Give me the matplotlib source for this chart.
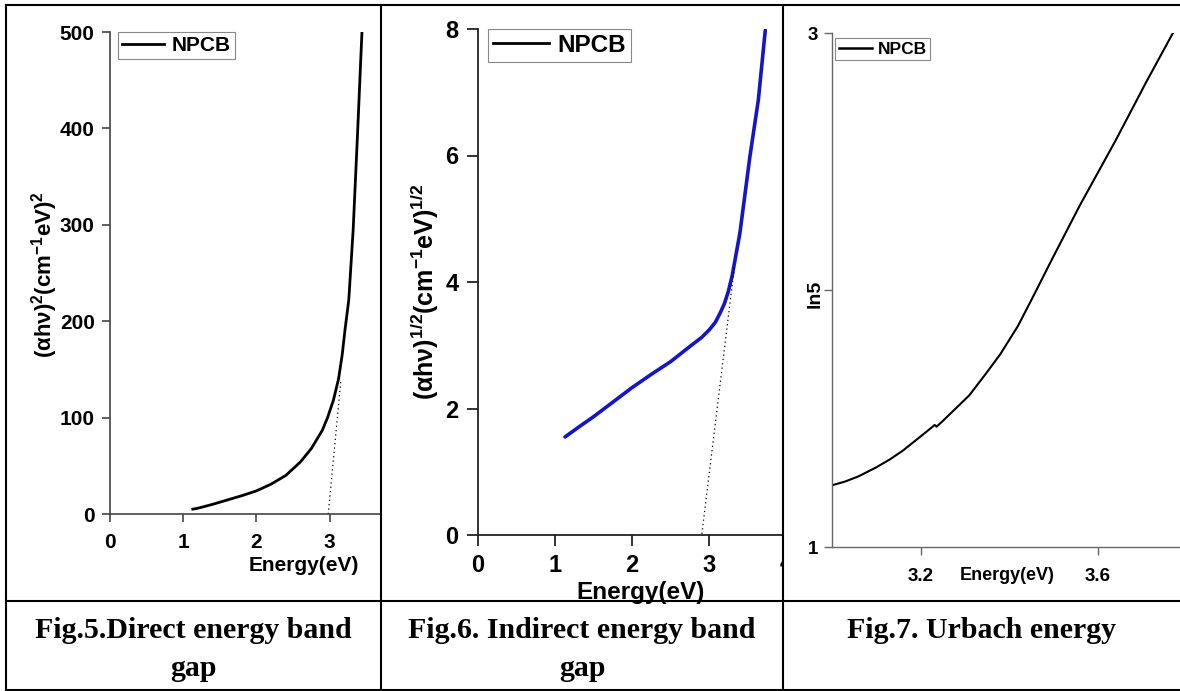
import numpy as np
import matplotlib
matplotlib.use('Agg')
import matplotlib.pyplot as plt
from matplotlib.lines import Line2D
import matplotlib.transforms as mtransforms

W, H = 1180, 691

# Fig.5 direct band gap : (alpha h nu)^2 vs energy
e_direct = [1.13, 1.2, 1.4, 1.6, 1.8, 2.0, 2.2, 2.4, 2.6, 2.75, 2.9, 2.97, 3.05,
            3.12, 3.17, 3.21, 3.26, 3.32, 3.38, 3.44]
a_direct = [5, 6, 10, 14.5, 19, 24, 31, 40, 54, 68, 87, 100, 118,
            140, 165, 192, 222, 295, 395, 500]
fit_direct_x = [2.98, 3.15]
fit_direct_y = [0, 137]

# Fig.6 indirect band gap : (alpha h nu)^1/2 vs energy
e_indirect = [1.13, 1.3, 1.5, 1.75, 2.0, 2.25, 2.5, 2.75, 2.9, 3.0, 3.08, 3.14,
              3.2, 3.25, 3.3, 3.4, 3.53, 3.64, 3.73]
a_indirect = [1.55, 1.7, 1.87, 2.1, 2.33, 2.54, 2.74, 2.98, 3.12, 3.24, 3.36, 3.5,
              3.66, 3.85, 4.1, 4.77, 5.98, 6.88, 7.98]
fit_indirect_x = [2.90, 3.33]
fit_indirect_y = [-0.05, 4.25]

# Fig.7 Urbach energy
e_urbach = [3.0, 3.03, 3.06, 3.1, 3.13, 3.16, 3.2, 3.225, 3.232, 3.236, 3.25, 3.28,
            3.31, 3.35, 3.38, 3.42, 3.45, 3.5, 3.56, 3.64, 3.71, 3.77]
ln_urbach = [1.24, 1.255, 1.275, 1.31, 1.34, 1.375, 1.43, 1.465, 1.475, 1.468, 1.49, 1.54,
             1.59, 1.68, 1.75, 1.86, 1.96, 2.13, 2.33, 2.58, 2.81, 3.0]

captions = [("Fig.5.Direct energy band", "gap"),
            ("Fig.6. Indirect energy band", "gap"),
            ("Fig.7. Urbach energy", "")]

plt.rcParams['font.family'] = ['Liberation Sans', 'DejaVu Sans']
plt.rcParams['font.weight'] = 'bold'
plt.rcParams['mathtext.fontset'] = 'custom'
plt.rcParams['mathtext.rm'] = 'Liberation Sans'
plt.rcParams['mathtext.bf'] = 'Liberation Sans:bold'
plt.rcParams['mathtext.it'] = 'Liberation Sans:italic'

fig = plt.figure(figsize=(W / 100, H / 100), dpi=100)


def box(l, t, r, b):
    return [l / W, 1 - b / H, (r - l) / W, (b - t) / H]


def style(ax, color, lw, size, tl, xpad, ypad):
    for s in ['top', 'right']:
        ax.spines[s].set_visible(False)
    for s in ['left', 'bottom']:
        ax.spines[s].set_color(color)
        ax.spines[s].set_linewidth(lw)
    ax.tick_params(direction='out', length=tl, width=lw, color=color, labelsize=size)
    ax.tick_params(axis='x', pad=xpad)
    ax.tick_params(axis='y', pad=ypad)


def legend(ax, x0, y1, size, hl, lw=2):
    h = [Line2D([], [], color='black', lw=lw)]
    lg = ax.legend(h, ['NPCB'], loc='upper left', bbox_to_anchor=(x0, y1),
                   borderaxespad=0, borderpad=0.2, handlelength=hl, handletextpad=0.35,
                   fancybox=False, framealpha=1, prop={'size': size, 'weight': 'bold'})
    lg.get_frame().set_edgecolor('#888888')
    lg.get_frame().set_linewidth(0.8)
    return lg


# ---- panel 1
ax1 = fig.add_axes(box(110, 32, 381, 514))
ax1.plot(e_direct, a_direct, color='black', lw=2)
ax1.plot(fit_direct_x, fit_direct_y, color='black', lw=0.9, ls=(0, (1, 2.5)))
ax1.set_xlim(0, 3.70)
ax1.set_ylim(0, 500)
ax1.set_xticks([0, 1, 2, 3])
ax1.set_yticks([0, 100, 200, 300, 400, 500])
style(ax1, '#444444', 1.2, 15, 6, 8, 5)
ax1.text(0.715, -0.106, 'Energy(eV)', transform=ax1.transAxes, ha='center', va='center',
         fontsize=15, fontweight='bold')
fig.text(45 / W, 1 - 275 / H, r'$\mathbf{(\alpha h\nu)^{2}(cm^{-1}eV)^{2}}$', rotation=90,
         ha='center', va='center', fontsize=16)
legend(ax1, 0.03, 1.0, 15, 2.0)

# ---- panel 2
ax2 = fig.add_axes(box(478, 29, 783, 535))
ax2.plot(e_indirect, a_indirect, color='#1414c8', lw=2.6, solid_capstyle='round')
ax2.plot(fit_indirect_x, fit_indirect_y, color='black', lw=0.9, ls=(0, (1, 2.5)))
ax2.set_xlim(0, 3.96)
ax2.set_ylim(0, 8)
ax2.set_xticks([0, 1, 2, 3])
ax2.set_yticks([0, 2, 4, 6, 8])
style(ax2, '#222222', 1.3, 17, 8, 6, 6)
ax2.text(0.534, -0.113, 'Energy(eV)', transform=ax2.transAxes, ha='center', va='center',
         fontsize=17.5, fontweight='bold')
fig.text(425 / W, 1 - 292 / H, r'$\mathbf{(\alpha h\nu)^{1/2}(cm^{-1}eV)^{1/2}}$', rotation=90,
         ha='center', va='center', fontsize=18)
legend(ax2, 0.033, 1.0, 17.5, 2.3)
# tick label "4" hidden behind the table border
tr = mtransforms.blended_transform_factory(ax2.transData, fig.transFigure)
t4 = fig.text(4.0, 1 - 563 / H, '4', transform=tr, ha='center', va='center',
              fontsize=17, fontweight='bold')
t4.set_clip_box(mtransforms.TransformedBbox(
    mtransforms.Bbox([[0, 0], [783 / W, 1]]), fig.transFigure))
t4.set_clip_on(True)

# ---- panel 3
ax3 = fig.add_axes(box(832, 33, 1180, 547))
ax3.plot(e_urbach, ln_urbach, color='black', lw=1.5)
ax3.set_xlim(3.0, 3.786)
ax3.set_ylim(1, 3)
ax3.set_xticks([3.2, 3.6])
ax3.set_yticks([1, 2, 3])
ax3.set_yticklabels(['1', '', '3'])
style(ax3, '#666666', 1.0, 13.5, 6, 9, 4)
ax3.text((1007 - 832) / 348, (547 - 575) / 514, 'Energy(eV)', transform=ax3.transAxes,
         ha='center', va='center', fontsize=13, fontweight='bold')
fig.text(815 / W, 1 - 294 / H, 'ln5', rotation=90, ha='center', va='center',
         fontsize=14, fontweight='bold')
legend(ax3, 0.009, 0.99, 12.5, 1.9, lw=1.8)

# ---- table lines
def hline(y, x0, x1):
    fig.add_artist(Line2D([x0 / W, x1 / W], [1 - y / H, 1 - y / H], color='black', lw=1.5))


def vline(x, y0, y1):
    fig.add_artist(Line2D([x / W, x / W], [1 - y0 / H, 1 - y1 / H], color='black', lw=1.5))


hline(5, 6, W)
hline(601, 6, W)
hline(690, 6, W)
for x in [6, 381, 783]:
    vline(x, 5, 690)

centers = [193.5, 582, 981]
for cx, (l1, l2) in zip(centers, captions):
    fig.text(cx / W, 1 - 638 / H, l1, ha='center', va='baseline', fontsize=21.5,
             fontweight='bold', family='Liberation Serif')
    if l2:
        fig.text(cx / W, 1 - 676 / H, l2, ha='center', va='baseline', fontsize=21.5,
                 fontweight='bold', family='Liberation Serif')

fig.savefig('out.png', dpi=100, facecolor='white')
